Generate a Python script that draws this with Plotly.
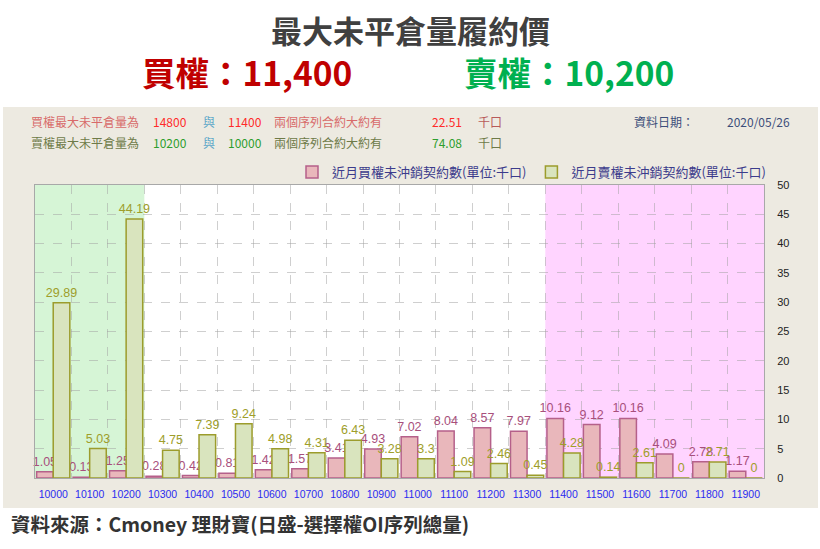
import plotly.graph_objects as go

# ---- data ----
strikes = [10000, 10100, 10200, 10300, 10400, 10500, 10600, 10700, 10800, 10900,
           11000, 11100, 11200, 11300, 11400, 11500, 11600, 11700, 11800, 11900]
call_oi = [1.05, 0.13, 1.25, 0.28, 0.42, 0.81, 1.42, 1.57, 3.41, 4.93,
           7.02, 8.04, 8.57, 7.97, 10.16, 9.12, 10.16, 4.09, 2.78, 1.17]
put_oi = [29.89, 5.03, 44.19, 4.75, 7.39, 9.24, 4.98, 4.31, 6.43, 3.28,
          3.3, 1.09, 2.46, 0.45, 4.28, 0.14, 2.61, 0, 2.71, 0]
call_name = "近月買權未沖銷契約數(單位:千口)"
put_name = "近月賣權未沖銷契約數(單位:千口)"
put_zone = [10000, 10200]
call_zone = [11400, 11900]

W, H = 820, 549
L, R, T, B = 35, 56, 185, 71
PW, PH = W - L - R, H - T - B


def px(x):
    return (x - L) / PW


def py(y):
    return (H - B - y) / PH


CJK = "Noto Sans CJK TC"
fig = go.Figure()
fig.add_trace(go.Bar(
    x=strikes, y=call_oi, name=call_name,
    marker=dict(color="#E9B7BB", line=dict(color="#B5608A", width=1.5)),
    text=call_oi, texttemplate="%{y}", textposition="outside", cliponaxis=False,
    constraintext="none",
    textfont=dict(family="Liberation Sans", size=12.5, color="#A84F7C"),
))
fig.add_trace(go.Bar(
    x=strikes, y=put_oi, name=put_name,
    marker=dict(color="#D9E4BE", line=dict(color="#9C9C2C", width=1.5)),
    text=put_oi, texttemplate="%{y}", textposition="outside", cliponaxis=False,
    constraintext="none",
    textfont=dict(family="Liberation Sans", size=12.5, color="#9E9E2A"),
))

shapes = []
# white strips around beige panel (paper bg is beige)
for x0, x1, y0, y1 in [(0, W, 0, 107), (0, W, 508, H), (0, 3, 0, H), (818, W, 0, H)]:
    shapes.append(dict(type="rect", xref="paper", yref="paper", layer="below",
                       x0=px(x0), x1=px(x1), y0=py(y1), y1=py(y0),
                       fillcolor="white", line=dict(width=0)))
# zones
shapes.append(dict(type="rect", xref="x", yref="paper", layer="below",
                   x0=put_zone[0] - 50, x1=put_zone[1] + 50, y0=0, y1=1,
                   fillcolor="#D6F5D6", line=dict(width=0)))
shapes.append(dict(type="rect", xref="x", yref="paper", layer="below",
                   x0=call_zone[0] - 50, x1=call_zone[1] + 50, y0=0, y1=1,
                   fillcolor="#FFD4FF", line=dict(width=0)))

ann = []


def add_text(text, x, y, size, color, xanchor="center", bold=False, family=CJK):
    ann.append(dict(text=f"<b>{text}</b>" if bold else text, x=px(x), y=py(y),
                    xref="paper", yref="paper", xanchor=xanchor, yanchor="middle",
                    showarrow=False, font=dict(family=family, size=size, color=color)))


add_text("最大未平倉量履約價", 410, 30, 31, "#404040", bold=True)
add_text("買權：11,400", 247, 71, 33.5, "#C00000", bold=True)
add_text("賣權：10,200", 569, 71, 33.5, "#00B050", bold=True)

rows = [
    (121, ["買權最大未平倉量為", "14800", "與", "11400", "兩個序列合約大約有", "22.51", "千口"],
     ["#D86A6A", "#FF2A2A", "#5AA6C8", "#FF2A2A", "#D86A6A", "#FF2A2A", "#B85A5A"]),
    (142, ["賣權最大未平倉量為", "10200", "與", "10000", "兩個序列合約大約有", "74.08", "千口"],
     ["#6E7A48", "#2E9E2E", "#5AA6C8", "#2E9E2E", "#6E7A48", "#2E9E2E", "#6E7A48"]),
]
xs = [29, 151, 201, 226, 272, 430, 476]
for yy, texts, cols in rows:
    for xx, t, c in zip(xs, texts, cols):
        add_text(t, xx, yy, 12, c, xanchor="left")
add_text("資料日期：", 632, 121, 12, "#3C4E7A", xanchor="left")
add_text("2020/05/26", 725, 121, 12, "#3C4E7A", xanchor="left")
add_text("資料來源：Cmoney 理財寶(日盛-選擇權OI序列總量)", 9, 523, 19.5, "#333333",
         xanchor="left", bold=True)

fig.update_layout(
    width=W, height=H, margin=dict(l=L, r=R, t=T, b=B, autoexpand=False),
    paper_bgcolor="#EDEAE1", plot_bgcolor="white",
    barmode="group", bargap=0.09, bargroupgap=0,
    showlegend=True,
    legend=dict(orientation="h", x=px(771), xanchor="right", y=py(172), yanchor="middle",
                bgcolor="rgba(0,0,0,0)", font=dict(family=CJK, size=13, color="#3C3C8C"),
                itemwidth=30),
    shapes=shapes, annotations=ann,
    xaxis=dict(range=[strikes[0] - 50, strikes[-1] + 50], tickvals=strikes,
               ticktext=[str(s) for s in strikes], showgrid=False, zeroline=False,
               tickfont=dict(family="Liberation Sans", size=10.5, color="#2B2BF0"),
               showline=True, mirror=True, linecolor="#A8A8A8", linewidth=1,
               ticklabelstandoff=6, automargin=False,
               minor=dict(tick0=strikes[0] - 50, dtick=100, showgrid=True,
                          gridcolor="rgba(160,160,160,0.5)", griddash="dash", gridwidth=1)),
    yaxis=dict(range=[0, 50], dtick=5, side="right", showgrid=True,
               gridcolor="rgba(160,160,160,0.5)", griddash="dash", zeroline=False,
               tickfont=dict(family="Liberation Sans", size=11, color="#222222"),
               showline=True, mirror=True, linecolor="#A8A8A8", linewidth=1,
               ticklabelstandoff=10, automargin=False),
)
fig.write_html("out.html", config={"displayModeBar": False},
               post_script="document.body.style.margin='0';document.body.style.overflow='hidden';")
